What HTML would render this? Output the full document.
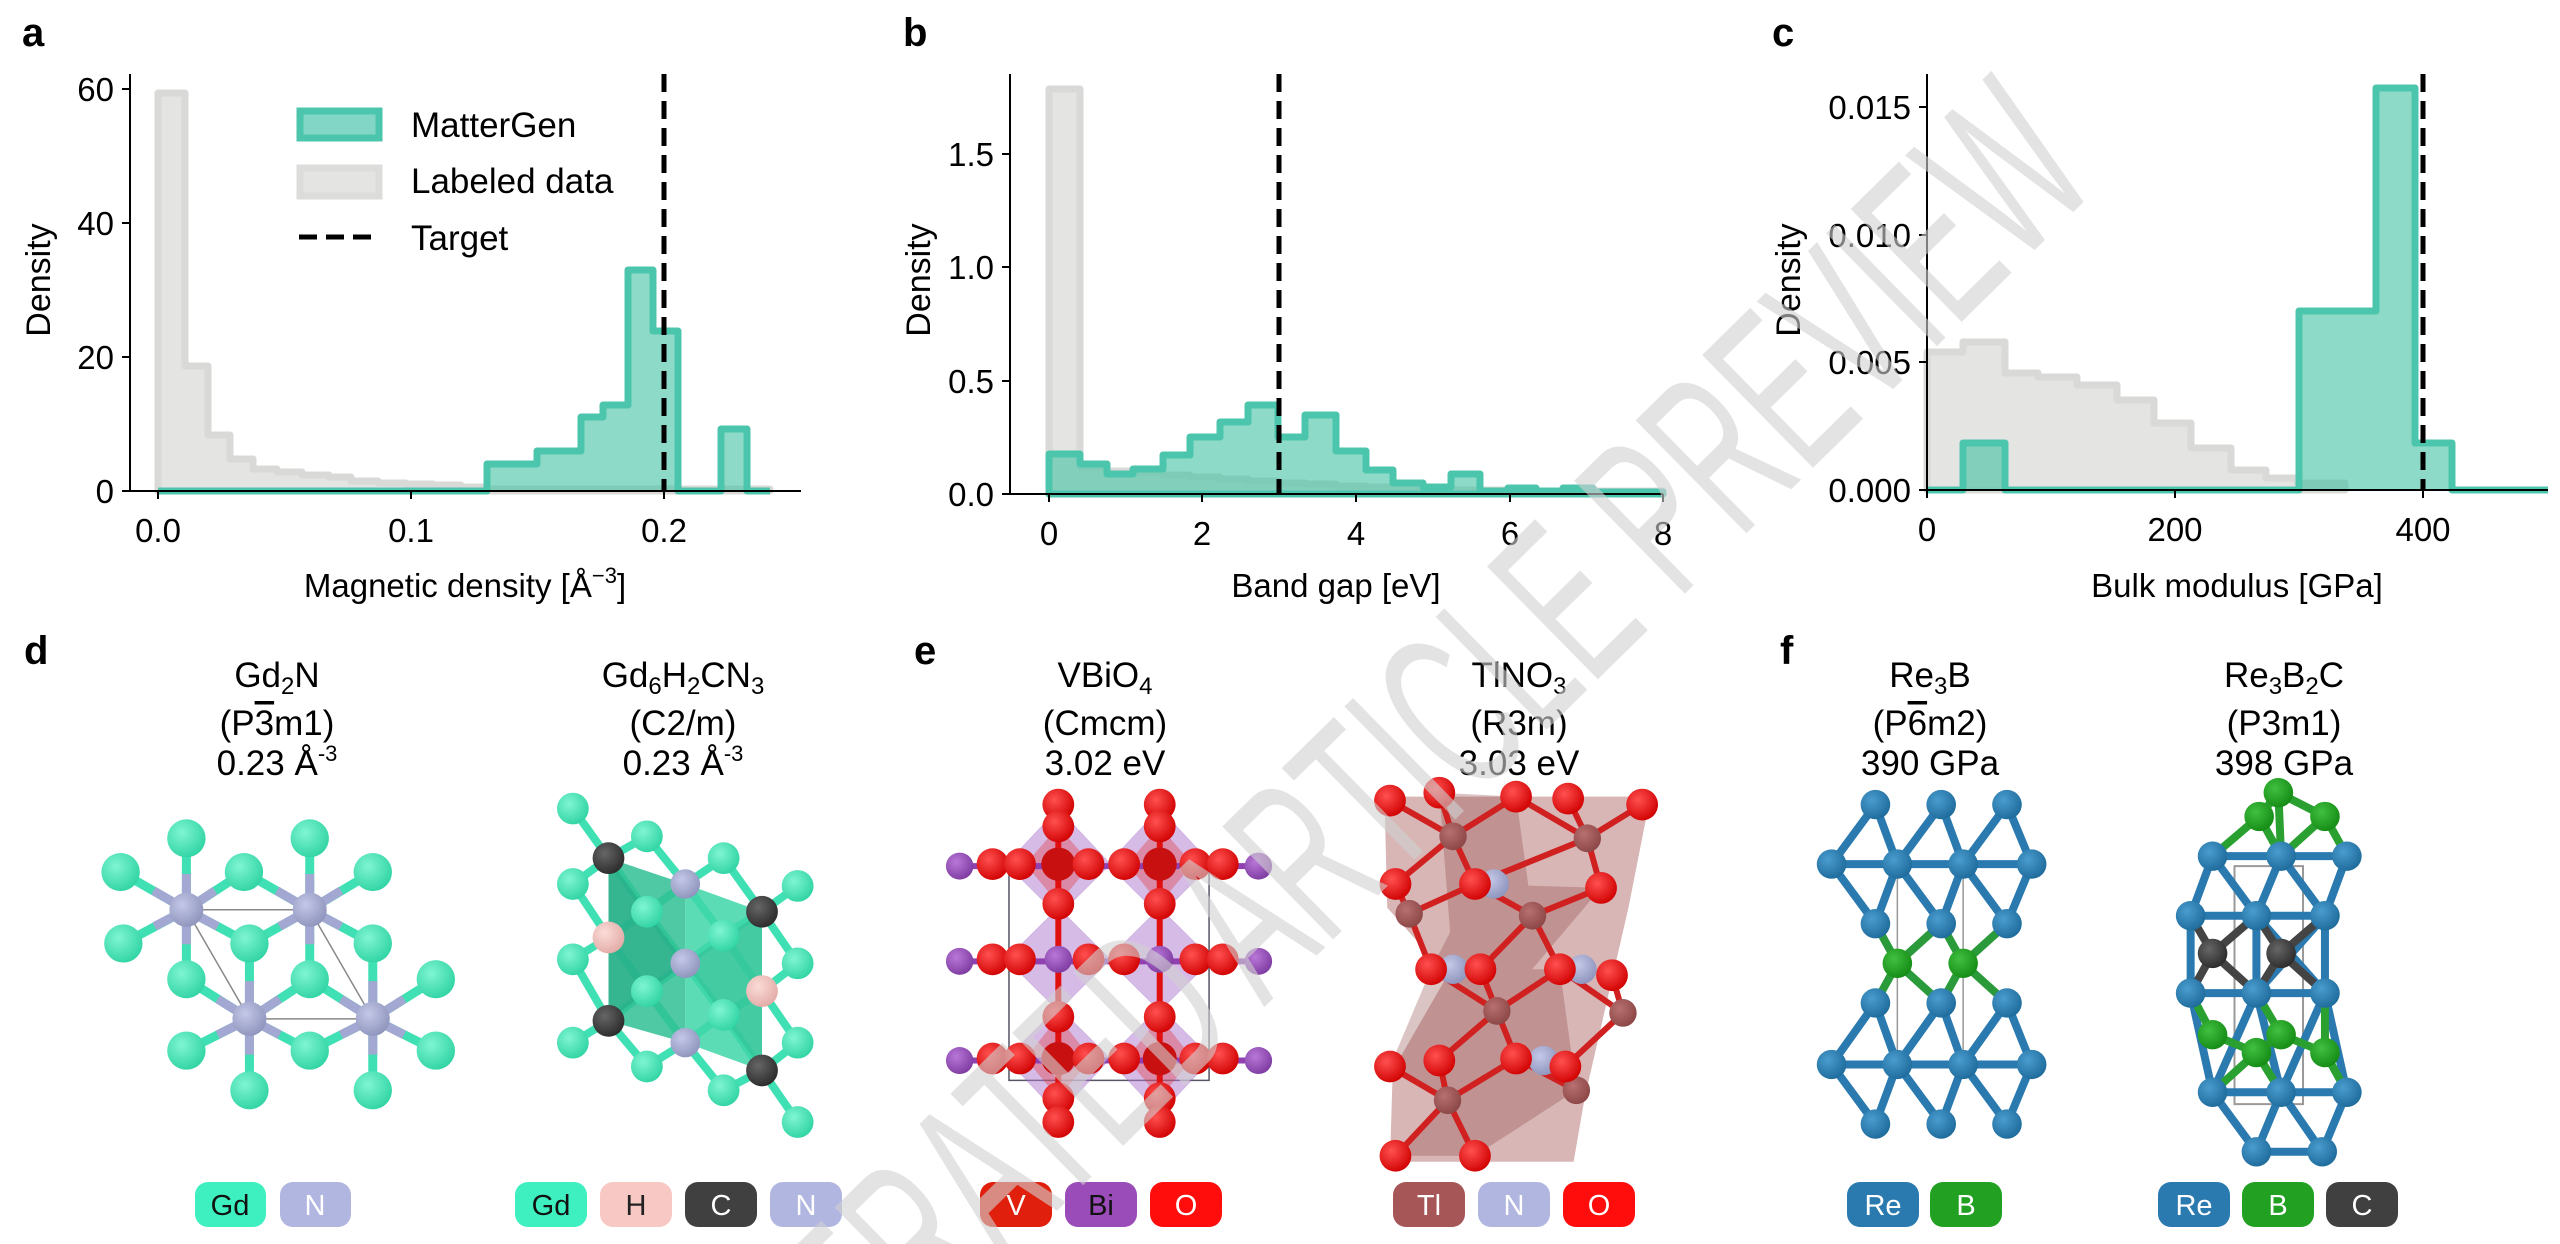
<!DOCTYPE html>
<html><head><meta charset="utf-8"><style>
html,body{margin:0;padding:0;background:#fff;width:2560px;height:1244px;overflow:hidden;}
svg{display:block;font-family:"Liberation Sans",sans-serif;}
svg path{fill:none;}
</style></head><body>
<svg width="2560" height="1244" viewBox="0 0 2560 1244" xmlns="http://www.w3.org/2000/svg" overflow="hidden">
<defs>
<radialGradient id="gGd" cx="0.38" cy="0.35" r="0.7"><stop offset="0" stop-color="#7ff5d3"/><stop offset="1" stop-color="#2fd3a3"/></radialGradient>
<radialGradient id="gN" cx="0.38" cy="0.35" r="0.7"><stop offset="0" stop-color="#c4c8e8"/><stop offset="1" stop-color="#8d93bb"/></radialGradient>
<radialGradient id="gC" cx="0.38" cy="0.35" r="0.7"><stop offset="0" stop-color="#666"/><stop offset="1" stop-color="#2a2a2a"/></radialGradient>
<radialGradient id="gH" cx="0.38" cy="0.35" r="0.7"><stop offset="0" stop-color="#fbdcd8"/><stop offset="1" stop-color="#e2aaa6"/></radialGradient>
<radialGradient id="gO" cx="0.38" cy="0.35" r="0.7"><stop offset="0" stop-color="#ff5050"/><stop offset="1" stop-color="#d00000"/></radialGradient>
<radialGradient id="gBi" cx="0.38" cy="0.35" r="0.7"><stop offset="0" stop-color="#b878d8"/><stop offset="1" stop-color="#7d3aa0"/></radialGradient>
<radialGradient id="gTl" cx="0.38" cy="0.35" r="0.7"><stop offset="0" stop-color="#b87070"/><stop offset="1" stop-color="#8a4545"/></radialGradient>
<radialGradient id="gRe" cx="0.38" cy="0.35" r="0.7"><stop offset="0" stop-color="#4a9ccf"/><stop offset="1" stop-color="#1d6a9a"/></radialGradient>
<radialGradient id="gB" cx="0.38" cy="0.35" r="0.7"><stop offset="0" stop-color="#40c040"/><stop offset="1" stop-color="#148a14"/></radialGradient>
<ellipse id="aGd" rx="35" ry="48" fill="url(#gGd)"/>
<ellipse id="aGds" rx="29" ry="40" fill="url(#gGd)"/>
<ellipse id="aN" rx="31" ry="43" fill="url(#gN)"/>
<ellipse id="aNs" rx="27" ry="37" fill="url(#gN)"/>
<ellipse id="aC" rx="29" ry="40" fill="url(#gC)"/>
<ellipse id="aH" rx="29" ry="40" fill="url(#gH)"/>
<ellipse id="aO" rx="29" ry="40" fill="url(#gO)"/>
<ellipse id="aV" rx="31" ry="42" fill="#c81010"/>
<ellipse id="aBi" rx="25" ry="34" fill="url(#gBi)"/>
<ellipse id="aTl" rx="25" ry="35" fill="url(#gTl)"/>
<ellipse id="aRe" rx="27" ry="37" fill="url(#gRe)"/>
<ellipse id="aB" rx="27" ry="37" fill="url(#gB)"/>
<ellipse id="aCf" rx="27" ry="37" fill="url(#gC)"/>
</defs>

<!-- ========== Panel a ========== -->
<text x="22" y="46" font-size="40" font-weight="bold">a</text>
<path d="M158,491 V93 H185 V366 H208 V435 H230 V459 H253 V469 H277 V472 H302 V475 H329 V477 H351 V481 H378 V483 H406 V484 H433 V485 H461 V487 H488 V489 H770 V491 Z" style="fill:#e4e4e2" stroke="#d9d9d7" stroke-width="7" stroke-linejoin="round"/>
<path d="M158,491 H487 V464 H537 V451 H581 V417 H603 V405 H628 V270 H653 V331 H678 V491 H721 V429 H747 V491 H770" style="fill:rgba(70,195,165,0.62)" stroke="#4cc5ad" stroke-width="7" stroke-linejoin="round"/>
<line x1="664" y1="74" x2="664" y2="491" stroke="#000" stroke-width="5" stroke-dasharray="18,9"/>
<g stroke="#000" stroke-width="2">
<line x1="130" y1="74" x2="130" y2="491"/><line x1="130" y1="491" x2="801" y2="491"/>
<line x1="122" y1="491" x2="130" y2="491"/><line x1="122" y1="357" x2="130" y2="357"/><line x1="122" y1="223" x2="130" y2="223"/><line x1="122" y1="89" x2="130" y2="89"/>
<line x1="158" y1="491" x2="158" y2="499"/><line x1="411" y1="491" x2="411" y2="499"/><line x1="664" y1="491" x2="664" y2="499"/>
</g>
<g font-size="33" text-anchor="end">
<text x="114" y="503">0</text><text x="114" y="369">20</text><text x="114" y="235">40</text><text x="114" y="101">60</text>
</g>
<g font-size="33" text-anchor="middle">
<text x="158" y="542">0.0</text><text x="411" y="542">0.1</text><text x="664" y="542">0.2</text>
<text x="465" y="597">Magnetic density [Å<tspan font-size="22" dy="-14">−3</tspan><tspan dy="14">]</tspan></text>
</g>
<text transform="translate(50,280) rotate(-90)" font-size="34" text-anchor="middle">Density</text>
<rect x="300" y="111" width="79" height="27" fill="#82d6c5" stroke="#4cc5ad" stroke-width="7"/>
<rect x="300" y="168" width="79" height="28" fill="#e4e4e2" stroke="#dcdcda" stroke-width="7"/>
<line x1="299" y1="237" x2="380" y2="237" stroke="#000" stroke-width="5" stroke-dasharray="18,9"/>
<g font-size="35"><text x="411" y="137">MatterGen</text><text x="411" y="193">Labeled data</text><text x="411" y="250">Target</text></g>

<!-- ========== Panel b ========== -->
<text x="903" y="46" font-size="40" font-weight="bold">b</text>
<path d="M1049,494 V89 H1080 V467 H1107 V471 H1133 V473 H1163 V475 H1190 V477 H1220 V479 H1248 V481 H1278 V483 H1305 V484 H1336 V486 H1366 V487 H1393 V488 H1423 V490 H1536 V491 H1663 V494 Z" style="fill:#e4e4e2" stroke="#d9d9d7" stroke-width="7" stroke-linejoin="round"/>
<path d="M1049,494 V454 H1080 V464 H1107 V474 H1133 V469 H1163 V455 H1190 V437 H1220 V422 H1248 V405 H1278 V437 H1305 V415 H1336 V451 H1366 V470 H1393 V483 H1423 V487 H1451 V474 H1480 V491 H1508 V488 H1536 V491 H1563 V488 H1593 V492 H1663 V494 Z" style="fill:rgba(70,195,165,0.62)" stroke="#4cc5ad" stroke-width="7" stroke-linejoin="round"/>
<line x1="1279" y1="74" x2="1279" y2="494" stroke="#000" stroke-width="5" stroke-dasharray="18,9"/>
<g stroke="#000" stroke-width="2">
<line x1="1010" y1="74" x2="1010" y2="494"/><line x1="1010" y1="494" x2="1663" y2="494"/>
<line x1="1002" y1="494" x2="1010" y2="494"/><line x1="1002" y1="381" x2="1010" y2="381"/><line x1="1002" y1="267" x2="1010" y2="267"/><line x1="1002" y1="154" x2="1010" y2="154"/>
<line x1="1049" y1="494" x2="1049" y2="502"/><line x1="1202" y1="494" x2="1202" y2="502"/><line x1="1356" y1="494" x2="1356" y2="502"/><line x1="1510" y1="494" x2="1510" y2="502"/><line x1="1663" y1="494" x2="1663" y2="502"/>
</g>
<g font-size="33" text-anchor="end">
<text x="994" y="506">0.0</text><text x="994" y="393">0.5</text><text x="994" y="279">1.0</text><text x="994" y="166">1.5</text>
</g>
<g font-size="33" text-anchor="middle">
<text x="1049" y="545">0</text><text x="1202" y="545">2</text><text x="1356" y="545">4</text><text x="1510" y="545">6</text><text x="1663" y="545">8</text>
<text x="1336" y="597">Band gap [eV]</text>
</g>
<text transform="translate(930,280) rotate(-90)" font-size="34" text-anchor="middle">Density</text>

<!-- ========== Panel c ========== -->
<text x="1772" y="46" font-size="40" font-weight="bold">c</text>
<path d="M1927,490 V352 H1963 V342 H2005 V373 H2038 V377 H2077 V385 H2117 V400 H2154 V423 H2191 V448 H2231 V470 H2266 V478 H2297 V483 H2345 V490 Z" style="fill:#e4e4e2" stroke="#d9d9d7" stroke-width="7" stroke-linejoin="round"/>
<path d="M1927,490 H1963 V443 H2005 V490 H2299 V311 H2376 V88 H2415 V443 H2452 V490 H2548" style="fill:rgba(70,195,165,0.62)" stroke="#4cc5ad" stroke-width="7" stroke-linejoin="round"/>
<line x1="2423" y1="74" x2="2423" y2="490" stroke="#000" stroke-width="5" stroke-dasharray="18,9"/>
<g stroke="#000" stroke-width="2">
<line x1="1927" y1="74" x2="1927" y2="490"/><line x1="1927" y1="490" x2="2548" y2="490"/>
<line x1="1919" y1="490" x2="1927" y2="490"/><line x1="1919" y1="362" x2="1927" y2="362"/><line x1="1919" y1="235" x2="1927" y2="235"/><line x1="1919" y1="107" x2="1927" y2="107"/>
<line x1="1927" y1="490" x2="1927" y2="498"/><line x1="2175" y1="490" x2="2175" y2="498"/><line x1="2423" y1="490" x2="2423" y2="498"/>
</g>
<g font-size="33" text-anchor="end">
<text x="1911" y="502">0.000</text><text x="1911" y="374">0.005</text><text x="1911" y="247">0.010</text><text x="1911" y="119">0.015</text>
</g>
<g font-size="33" text-anchor="middle">
<text x="1927" y="541">0</text><text x="2175" y="541">200</text><text x="2423" y="541">400</text>
<text x="2237" y="597">Bulk modulus [GPa]</text>
</g>
<text transform="translate(1800,280) rotate(-90)" font-size="34" text-anchor="middle">Density</text>

<!-- ========== Bottom titles ========== -->
<g font-size="40" font-weight="bold"><text x="24" y="664">d</text><text x="914" y="664">e</text><text x="1780" y="664">f</text></g>
<g font-size="35" text-anchor="middle">
<text x="277" y="687">Gd<tspan font-size="24" dy="7">2</tspan><tspan dy="-7">N</tspan></text>
<text x="277" y="735">(P<tspan text-decoration="overline">3</tspan>m1)</text>
<text x="277" y="775">0.23 Å<tspan font-size="22" dy="-14">-3</tspan></text>
<text x="683" y="687">Gd<tspan font-size="24" dy="7">6</tspan><tspan dy="-7">H</tspan><tspan font-size="24" dy="7">2</tspan><tspan dy="-7">CN</tspan><tspan font-size="24" dy="7">3</tspan></text>
<text x="683" y="735">(C2/m)</text>
<text x="683" y="775">0.23 Å<tspan font-size="22" dy="-14">-3</tspan></text>
<text x="1105" y="687">VBiO<tspan font-size="24" dy="7">4</tspan></text>
<text x="1105" y="735">(Cmcm)</text>
<text x="1105" y="775">3.02 eV</text>
<text x="1519" y="687">TlNO<tspan font-size="24" dy="7">3</tspan></text>
<text x="1519" y="735">(R3m)</text>
<text x="1519" y="775">3.03 eV</text>
<text x="1930" y="687">Re<tspan font-size="24" dy="7">3</tspan><tspan dy="-7">B</tspan></text>
<text x="1930" y="735">(P<tspan text-decoration="overline">6</tspan>m2)</text>
<text x="1930" y="775">390 GPa</text>
<text x="2284" y="687">Re<tspan font-size="24" dy="7">3</tspan><tspan dy="-7">B</tspan><tspan font-size="24" dy="7">2</tspan><tspan dy="-7">C</tspan></text>
<text x="2284" y="735">(P3m1)</text>
<text x="2284" y="775">398 GPa</text>
</g>

<!-- ========== d structures ========== -->
<g transform="translate(0,630) scale(0.5482,0.3968)">
 <path d="M340,705 L565,705 L680,980 L455,980 Z M340,705 L455,980 M565,705 L680,980" stroke="#888" stroke-width="1.5" vector-effect="non-scaling-stroke"/>
 <path d="M340,705L340,525M340,705L220,610M340,705L445,610M340,705L225,790M340,705L455,790M340,705L340,880M565,705L565,525M565,705L445,610M565,705L680,610M565,705L455,790M565,705L680,790M565,705L565,880M455,980L455,790M455,980L340,880M455,980L565,880M455,980L340,1060M455,980L565,1060M455,980L455,1160M680,980L680,790M680,980L565,880M680,980L795,880M680,980L565,1060M680,980L795,1060M680,980L680,1160" stroke="#3fe0b3" stroke-width="9" vector-effect="non-scaling-stroke"/>
 <path d="M340,705L340,615M340,705L280,657M340,705L392,657M340,705L282,747M340,705L397,747M340,705L340,792M565,705L565,615M565,705L505,657M565,705L622,657M565,705L510,747M565,705L622,747M565,705L565,792M455,980L455,885M455,980L397,930M455,980L510,930M455,980L397,1020M455,980L510,1020M455,980L455,1070M680,980L680,885M680,980L622,930M680,980L737,930M680,980L622,1020M680,980L737,1020M680,980L680,1070" stroke="#a3a8d2" stroke-width="9" vector-effect="non-scaling-stroke"/>
 <use href="#aN" x="340" y="705"/><use href="#aN" x="565" y="705"/><use href="#aN" x="455" y="980"/><use href="#aN" x="680" y="980"/>
 <use href="#aGd" x="340" y="525"/><use href="#aGd" x="565" y="525"/><use href="#aGd" x="220" y="610"/><use href="#aGd" x="445" y="610"/><use href="#aGd" x="680" y="610"/>
 <use href="#aGd" x="225" y="790"/><use href="#aGd" x="455" y="790"/><use href="#aGd" x="680" y="790"/>
 <use href="#aGd" x="340" y="880"/><use href="#aGd" x="565" y="880"/><use href="#aGd" x="795" y="880"/>
 <use href="#aGd" x="340" y="1060"/><use href="#aGd" x="565" y="1060"/><use href="#aGd" x="795" y="1060"/>
 <use href="#aGd" x="455" y="1160"/><use href="#aGd" x="680" y="1160"/>

 <path d="M1045,450L1110,575M1110,575L1180,520M1110,575L1045,640M1110,575L1180,710M1390,710L1320,575M1390,710L1455,645M1390,710L1320,770M1390,710L1455,840M1110,985L1045,1040M1110,985L1180,910M1110,985L1180,1100M1110,985L1045,830M1390,1110L1320,970M1390,1110L1455,1040M1390,1110L1320,1160M1390,1110L1455,1240M1110,775L1045,640M1110,775L1180,710M1110,775L1045,830M1110,775L1180,910M1390,910L1320,770M1390,910L1455,840M1390,910L1320,970M1390,910L1455,1040M1250,640L1180,520M1250,640L1320,575M1250,640L1180,710M1250,640L1320,770M1250,840L1180,710M1250,840L1320,770M1250,840L1180,910M1250,840L1320,970M1250,1040L1180,910M1250,1040L1320,970M1250,1040L1180,1100M1250,1040L1320,1160" stroke="#3fe0b3" stroke-width="8" vector-effect="non-scaling-stroke"/>
 <polygon points="1110,575 1250,640 1250,1040 1110,985" fill="#2fbf93" opacity="0.85"/>
 <polygon points="1250,640 1390,710 1390,1110 1250,1040" fill="#3fd6a8" opacity="0.85"/>
 <polygon points="1110,575 1250,840 1110,985" fill="#27a985" opacity="0.6"/>
 <polygon points="1390,710 1250,840 1390,1110" fill="#2db98f" opacity="0.5"/>
 <use href="#aGds" x="1045" y="450"/><use href="#aGds" x="1180" y="520"/><use href="#aGds" x="1320" y="575"/><use href="#aGds" x="1045" y="640"/><use href="#aGds" x="1455" y="645"/>
 <use href="#aGds" x="1180" y="710"/><use href="#aGds" x="1320" y="770"/><use href="#aGds" x="1045" y="830"/><use href="#aGds" x="1455" y="840"/>
 <use href="#aGds" x="1180" y="910"/><use href="#aGds" x="1320" y="970"/><use href="#aGds" x="1045" y="1040"/><use href="#aGds" x="1455" y="1040"/>
 <use href="#aGds" x="1180" y="1100"/><use href="#aGds" x="1320" y="1160"/><use href="#aGds" x="1455" y="1240"/>
 <use href="#aC" x="1110" y="575"/><use href="#aC" x="1390" y="710"/><use href="#aC" x="1110" y="985"/><use href="#aC" x="1390" y="1110"/>
 <use href="#aH" x="1110" y="775"/><use href="#aH" x="1390" y="910"/>
 <use href="#aNs" x="1250" y="640"/><use href="#aNs" x="1250" y="840"/><use href="#aNs" x="1250" y="1040"/>
</g>

<!-- ========== e structures ========== -->
<g transform="translate(850,630) scale(0.5482,0.3968)">
 <rect x="290" y="600" width="365" height="535" fill="none" stroke="#556" stroke-width="1.5" vector-effect="non-scaling-stroke"/>
 <g fill="#b07ad0" opacity="0.5" stroke="#9a60c0" stroke-width="1.5">
  <polygon points="380,450 475,590 380,720 285,590"/><polygon points="565,450 660,590 565,720 470,590"/>
  <polygon points="380,700 475,830 380,960 285,830"/><polygon points="565,700 660,830 565,960 470,830"/>
  <polygon points="380,950 475,1080 380,1220 285,1080"/><polygon points="565,950 660,1080 565,1220 470,1080"/>
 </g>
 <g fill="#e03030" opacity="0.35">
  <polygon points="380,495 440,590 380,690 320,590"/><polygon points="565,495 625,590 565,690 505,590"/>
  <polygon points="380,975 440,1080 380,1180 320,1080"/><polygon points="565,975 625,1080 565,1180 505,1080"/>
 </g>
 <path d="M200,595H745M200,835H745M200,1085H745" stroke="#9040b0" stroke-width="6" vector-effect="non-scaling-stroke"/>
 <path d="M380,440V1240M565,440V1240" stroke="#e01010" stroke-width="6" vector-effect="non-scaling-stroke"/>
 <use href="#aBi" x="200" y="595"/><use href="#aBi" x="745" y="595"/><use href="#aBi" x="200" y="835"/><use href="#aBi" x="745" y="835"/><use href="#aBi" x="200" y="1085"/><use href="#aBi" x="745" y="1085"/>
 <use href="#aBi" x="380" y="830"/><use href="#aBi" x="565" y="830"/>
 <use href="#aV" x="380" y="590"/><use href="#aV" x="565" y="590"/><use href="#aV" x="380" y="1080"/><use href="#aV" x="565" y="1080"/>
 <use href="#aO" x="260" y="590"/><use href="#aO" x="310" y="590"/><use href="#aO" x="435" y="590"/><use href="#aO" x="500" y="590"/><use href="#aO" x="630" y="590"/><use href="#aO" x="680" y="590"/>
 <use href="#aO" x="260" y="830"/><use href="#aO" x="310" y="830"/><use href="#aO" x="435" y="830"/><use href="#aO" x="500" y="830"/><use href="#aO" x="630" y="830"/><use href="#aO" x="680" y="830"/>
 <use href="#aO" x="260" y="1080"/><use href="#aO" x="310" y="1080"/><use href="#aO" x="435" y="1080"/><use href="#aO" x="500" y="1080"/><use href="#aO" x="630" y="1080"/><use href="#aO" x="680" y="1080"/>
 <use href="#aO" x="380" y="440"/><use href="#aO" x="565" y="440"/><use href="#aO" x="380" y="495"/><use href="#aO" x="565" y="495"/>
 <use href="#aO" x="380" y="690"/><use href="#aO" x="565" y="690"/><use href="#aO" x="380" y="975"/><use href="#aO" x="565" y="975"/>
 <use href="#aO" x="380" y="1180"/><use href="#aO" x="565" y="1180"/><use href="#aO" x="380" y="1240"/><use href="#aO" x="565" y="1240"/>

 <polygon points="975,420 1460,420 1420,700 1340,1180 1320,1340 985,1340 990,1110 1090,870 980,700" fill="#a0524f" opacity="0.42"/>
 <g fill="#8c4040" opacity="0.3">
  <polygon points="1075,410 1215,420 1245,720 1100,855"/>
  <polygon points="1140,640 1370,650 1180,960 1060,855"/>
  <polygon points="1060,855 1295,855 1325,1160 1090,1185 985,1100"/>
  <polygon points="1215,1080 1305,1100 1325,1160 1140,1325 995,1325 1090,1185"/>
 </g>
 <path d="M1100,520L985,430M1100,520L1075,410M1100,520L1215,420M1100,520L995,640M1100,520L1140,640M1345,525L1215,420M1345,525L1310,425M1345,525L1445,440M1345,525L1370,650M1345,525L1140,640M1245,720L1140,640M1245,720L1370,650M1245,720L1150,855M1245,720L1295,855M1020,715L995,640M1020,715L1060,855M1020,715L1140,640M1180,960L1060,855M1180,960L1150,855M1180,960L1295,855M1180,960L1075,1085M1180,960L1215,1080M1410,965L1390,870M1410,965L1295,855M1410,965L1305,1100M1090,1185L985,1100M1090,1185L1075,1085M1090,1185L1215,1080M1090,1185L995,1325M1090,1185L1140,1325M1325,1160L1305,1100M1325,1160L1215,1080" stroke="#d02020" stroke-width="6" vector-effect="non-scaling-stroke"/>
 <use href="#aTl" x="1100" y="520"/><use href="#aTl" x="1345" y="525"/><use href="#aTl" x="1245" y="720"/><use href="#aTl" x="1020" y="715"/><use href="#aTl" x="1180" y="960"/><use href="#aTl" x="1410" y="965"/><use href="#aTl" x="1090" y="1185"/><use href="#aTl" x="1325" y="1160"/>
 <use href="#aNs" x="1175" y="640"/><use href="#aNs" x="1100" y="855"/><use href="#aNs" x="1335" y="855"/><use href="#aNs" x="1265" y="1085"/>
 <use href="#aO" x="985" y="430"/><use href="#aO" x="1075" y="410"/><use href="#aO" x="1215" y="420"/><use href="#aO" x="1310" y="425"/><use href="#aO" x="1445" y="440"/>
 <use href="#aO" x="995" y="640"/><use href="#aO" x="1140" y="640"/><use href="#aO" x="1370" y="650"/>
 <use href="#aO" x="1060" y="855"/><use href="#aO" x="1150" y="855"/><use href="#aO" x="1295" y="855"/><use href="#aO" x="1390" y="870"/>
 <use href="#aO" x="985" y="1100"/><use href="#aO" x="1075" y="1085"/><use href="#aO" x="1215" y="1080"/><use href="#aO" x="1305" y="1100"/>
 <use href="#aO" x="995" y="1325"/><use href="#aO" x="1140" y="1325"/>
</g>

<!-- ========== f structures ========== -->
<g transform="translate(1700,630) scale(0.5482,0.3968)">
 <path d="M360,590V1095M480,590V1095" stroke="#999" stroke-width="1.5" vector-effect="non-scaling-stroke"/>
 <path d="M240,590H605M240,1095H605M320,440L240,590M320,440L360,590M440,440L360,590M440,440L480,590M560,440L480,590M560,440L605,590M240,590L320,740M360,590L320,740M360,590L440,740M480,590L440,740M480,590L560,740M605,590L560,740M320,940L240,1095M320,940L360,1095M440,940L360,1095M440,940L480,1095M560,940L480,1095M560,940L605,1095M240,1095L320,1245M360,1095L320,1245M360,1095L440,1245M480,1095L440,1245M480,1095L560,1245M605,1095L560,1245" stroke="#2a7ab0" stroke-width="8" vector-effect="non-scaling-stroke"/>
 <path d="M320,740L360,840M440,740L360,840M440,740L480,840M560,740L480,840M360,840L320,940M360,840L440,940M480,840L440,940M480,840L560,940" stroke="#2a9a3a" stroke-width="8" vector-effect="non-scaling-stroke"/>
 <use href="#aRe" x="320" y="440"/><use href="#aRe" x="440" y="440"/><use href="#aRe" x="560" y="440"/>
 <use href="#aRe" x="240" y="590"/><use href="#aRe" x="360" y="590"/><use href="#aRe" x="480" y="590"/><use href="#aRe" x="605" y="590"/>
 <use href="#aRe" x="320" y="740"/><use href="#aRe" x="440" y="740"/><use href="#aRe" x="560" y="740"/>
 <use href="#aB" x="360" y="840"/><use href="#aB" x="480" y="840"/>
 <use href="#aRe" x="320" y="940"/><use href="#aRe" x="440" y="940"/><use href="#aRe" x="560" y="940"/>
 <use href="#aRe" x="240" y="1095"/><use href="#aRe" x="360" y="1095"/><use href="#aRe" x="480" y="1095"/><use href="#aRe" x="605" y="1095"/>
 <use href="#aRe" x="320" y="1245"/><use href="#aRe" x="440" y="1245"/><use href="#aRe" x="560" y="1245"/>

 <rect x="975" y="595" width="125" height="600" fill="none" stroke="#999" stroke-width="2" vector-effect="non-scaling-stroke"/>
 <path d="M935,570H1180M895,720H1140M895,915H1140M935,1165H1180M1015,1315H1135M935,570L895,720M935,570L1015,720M1060,570L1015,720M1060,570L1140,720M1180,570L1140,720M895,720V915M1015,720V915M1140,720V915M1015,720L1140,915M1140,720L1015,915M895,915L935,1165M1015,915L935,1165M1015,915L1060,1165M1140,915L1060,1165M1140,915L1180,1165M935,1165L1015,1315M1060,1165L1015,1315M1060,1165L1135,1315M1180,1165L1135,1315" stroke="#2a7ab0" stroke-width="8" vector-effect="non-scaling-stroke"/>
 <path d="M935,570L1020,470M1060,570L1020,470M1060,570L1140,470M1180,570L1140,470M1020,470L1055,410M1055,410L1140,470M1060,570L1055,410M935,1020L1015,1065M1060,1020L1015,1065M1060,1020L1140,1065M935,1020L895,915M1060,1020L1015,915M1140,1065L1140,915M1015,1065L935,1165M1015,1065L1060,1165M1140,1065L1180,1165" stroke="#2aa030" stroke-width="8" vector-effect="non-scaling-stroke"/>
 <path d="M935,815L895,720M935,815L1015,720M935,815L895,915M935,815L1015,915M1060,815L1015,720M1060,815L1140,720M1060,815L1015,915M1060,815L1140,915" stroke="#444" stroke-width="8" vector-effect="non-scaling-stroke"/>
 <use href="#aB" x="1055" y="410"/><use href="#aB" x="1020" y="470"/><use href="#aB" x="1140" y="470"/>
 <use href="#aRe" x="935" y="570"/><use href="#aRe" x="1060" y="570"/><use href="#aRe" x="1180" y="570"/>
 <use href="#aRe" x="895" y="720"/><use href="#aRe" x="1015" y="720"/><use href="#aRe" x="1140" y="720"/>
 <use href="#aCf" x="935" y="815"/><use href="#aCf" x="1060" y="815"/>
 <use href="#aRe" x="895" y="915"/><use href="#aRe" x="1015" y="915"/><use href="#aRe" x="1140" y="915"/>
 <use href="#aB" x="935" y="1020"/><use href="#aB" x="1060" y="1020"/><use href="#aB" x="1015" y="1065"/><use href="#aB" x="1140" y="1065"/>
 <use href="#aRe" x="935" y="1165"/><use href="#aRe" x="1060" y="1165"/><use href="#aRe" x="1180" y="1165"/>
 <use href="#aRe" x="1015" y="1315"/><use href="#aRe" x="1135" y="1315"/>
</g>

<!-- ========== element pills ========== -->
<g font-size="29" text-anchor="middle">
 <rect x="195" y="1182" width="71" height="45" rx="13" fill="#3ef0c0"/><text x="230" y="1215" fill="#111">Gd</text>
 <rect x="280" y="1182" width="71" height="45" rx="13" fill="#b0b6e0"/><text x="315" y="1215" fill="#fff">N</text>
 <rect x="515" y="1182" width="72" height="45" rx="13" fill="#3ef0c0"/><text x="551" y="1215" fill="#111">Gd</text>
 <rect x="600" y="1182" width="72" height="45" rx="13" fill="#f8c8c4"/><text x="636" y="1215" fill="#222">H</text>
 <rect x="685" y="1182" width="72" height="45" rx="13" fill="#404040"/><text x="721" y="1215" fill="#fff">C</text>
 <rect x="770" y="1182" width="72" height="45" rx="13" fill="#b0b6e0"/><text x="806" y="1215" fill="#fff">N</text>
 <rect x="980" y="1182" width="72" height="45" rx="13" fill="#e0200c"/><text x="1016" y="1215" fill="#fff">V</text>
 <rect x="1065" y="1182" width="72" height="45" rx="13" fill="#9a4cb8"/><text x="1101" y="1215" fill="#111">Bi</text>
 <rect x="1150" y="1182" width="72" height="45" rx="13" fill="#ff0d0d"/><text x="1186" y="1215" fill="#fff">O</text>
 <rect x="1393" y="1182" width="72" height="45" rx="13" fill="#a65656"/><text x="1429" y="1215" fill="#fff">Tl</text>
 <rect x="1478" y="1182" width="72" height="45" rx="13" fill="#b0b6e0"/><text x="1514" y="1215" fill="#fff">N</text>
 <rect x="1563" y="1182" width="72" height="45" rx="13" fill="#ff0d0d"/><text x="1599" y="1215" fill="#fff">O</text>
 <rect x="1847" y="1182" width="72" height="45" rx="13" fill="#2a7ab0"/><text x="1883" y="1215" fill="#fff">Re</text>
 <rect x="1930" y="1182" width="72" height="45" rx="13" fill="#22a022"/><text x="1966" y="1215" fill="#fff">B</text>
 <rect x="2158" y="1182" width="72" height="45" rx="13" fill="#2a7ab0"/><text x="2194" y="1215" fill="#fff">Re</text>
 <rect x="2242" y="1182" width="72" height="45" rx="13" fill="#22a022"/><text x="2278" y="1215" fill="#fff">B</text>
 <rect x="2326" y="1182" width="72" height="45" rx="13" fill="#404040"/><text x="2362" y="1215" fill="#fff">C</text>
</g>

<!-- ========== watermark ========== -->
<text transform="translate(2060,140) rotate(-44.5)" font-size="230" text-anchor="end" fill="#d2d2d2" opacity="0.6" textLength="2150" lengthAdjust="spacingAndGlyphs" dominant-baseline="middle">ACCELERATED ARTICLE PREVIEW</text>
</svg>
</body></html>
